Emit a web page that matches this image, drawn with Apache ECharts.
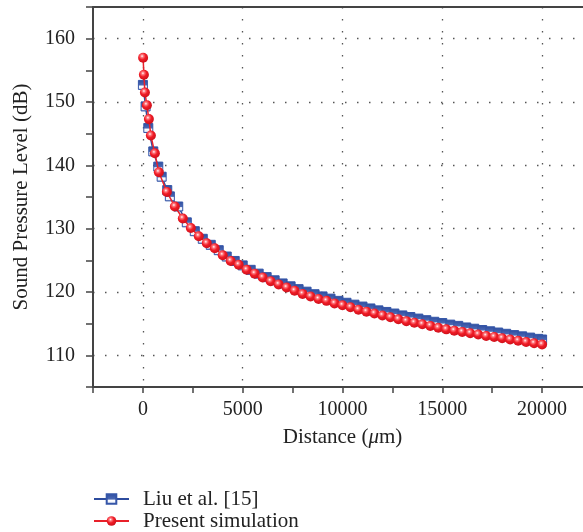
<!DOCTYPE html>
<html lang="en">
<head>
    <meta charset="UTF-8">
    <title>Sound pressure level vs distance</title>
    <script src="https://cdn.jsdelivr.net/npm/echarts@6/dist/echarts.min.js"></script>
    <style type="text/css">
        *{
            padding: 0px;
            margin: 0px;
            border: 0px;
        }
        #chart{
            width: 583px;
            height: 532px;
            background: #fff;
        }
    </style>
</head>
<body>
<div id="chart"></div>
<script>
    // Liu et al. [15] (blue squares)
    var liuX = [0, 135, 270, 520, 770, 940, 1220, 1350, 1770,
        2200, 2600, 3000, 3400, 3800, 4200, 4600, 5000, 5400, 5800,
        6200, 6600, 7000, 7400, 7800, 8200, 8600, 9000, 9400, 9800,
        10200, 10600, 11000, 11400, 11800, 12200, 12600, 13000, 13400, 13800,
        14200, 14600, 15000, 15400, 15800, 16200, 16600, 17000, 17400, 17800,
        18200, 18600, 19000, 19400, 19800, 20000];
    var liuY = [152.7, 149.3, 145.9, 142.2, 139.8, 138.2, 136.1, 135.1, 133.5,
        131.0, 129.6, 128.4, 127.45, 126.6, 125.6, 124.9, 124.2, 123.5, 122.9,
        122.35, 121.85, 121.35, 120.9, 120.45, 120.05, 119.65, 119.3, 118.95, 118.6,
        118.3, 118.0, 117.7, 117.4, 117.1, 116.85, 116.6, 116.3, 116.05, 115.8,
        115.55, 115.3, 115.1, 114.85, 114.65, 114.4, 114.2, 114.0, 113.8, 113.6,
        113.4, 113.2, 113.0, 112.8, 112.6, 112.5];

    // Present simulation (red balls)
    var simX = [10, 50, 100, 200, 300, 400, 600, 800, 1200, 1600,
        2000, 2400, 2800, 3200, 3600, 4000, 4400, 4800, 5200, 5600,
        6000, 6400, 6800, 7200, 7600, 8000, 8400, 8800, 9200, 9600,
        10000, 10400, 10800, 11200, 11600, 12000, 12400, 12800, 13200, 13600,
        14000, 14400, 14800, 15200, 15600, 16000, 16400, 16800, 17200, 17600,
        18000, 18400, 18800, 19200, 19600, 20000];
    var simY = [157.0, 154.3, 151.5, 149.5, 147.3, 144.7, 141.9, 138.9, 135.8, 133.5,
        131.6, 130.1, 128.8, 127.7, 126.9, 125.8, 124.9, 124.3, 123.5, 122.9,
        122.3, 121.7, 121.2, 120.7, 120.2, 119.7, 119.3, 118.9, 118.6, 118.2,
        117.9, 117.6, 117.2, 116.9, 116.6, 116.3, 116.0, 115.7, 115.4, 115.15,
        114.9, 114.65, 114.35, 114.1, 113.9, 113.7, 113.5, 113.3, 113.05, 112.9,
        112.7, 112.5, 112.3, 112.1, 111.9, 111.7];

    var seriesNames = ['Liu et al. [15]', 'Present simulation'];

    function pairs(xs, ys) {
        var out = [];
        for (var i = 0; i < xs.length; i++) out.push([xs[i], ys[i]]);
        return out;
    }

    var serif = 'Liberation Serif';
    // every other split line is transparent, so the dotted grid sits on the labelled ticks only
    var dotGrid = {show: true, lineStyle: {color: ['rgba(0,0,0,0)', '#555'], width: 1.3, type: [1.5, 10.5]}};

    var option = {
        animation: false,
        backgroundColor: '#fff',
        grid: {left: 93, top: 7, width: 499, height: 380, containLabel: false, outerBoundsMode: 'none'},
        legend: {
            orient: 'vertical',
            left: 93,
            top: 488,
            padding: 0,
            itemWidth: 35,
            itemHeight: 12,
            itemGap: 0,
            textStyle: {fontFamily: serif, fontSize: 21, color: '#222', lineHeight: 22, padding: [0, 0, 0, 9]},
            data: seriesNames
        },
        xAxis: [{
            type: 'value',
            min: -2500,
            max: 22500,
            interval: 2500,
            name: 'Distance ({it|μ}m)',
            nameLocation: 'middle',
            nameGap: 40,
            nameTextStyle: {fontFamily: serif, fontSize: 21, color: '#222',
                rich: {it: {fontFamily: serif, fontSize: 21, fontStyle: 'italic', color: '#222'}}},
            axisLine: {onZero: false, lineStyle: {color: '#444', width: 2}},
            axisTick: {inside: false, length: 6, lineStyle: {color: '#444', width: 1.5}},
            axisLabel: {
                fontFamily: serif, fontSize: 20, color: '#222', margin: 13,
                showMinLabel: true, showMaxLabel: true,
                formatter: function (v) {
                    return (v >= 0 && v <= 20000 && v % 5000 === 0) ? String(v) : '';
                }
            },
            splitLine: dotGrid
        }, {
            type: 'value',
            position: 'top',
            min: -2500,
            max: 22500,
            interval: 2500,
            axisLine: {show: true, onZero: false, lineStyle: {color: '#444', width: 2}},
            axisTick: {show: false},
            axisLabel: {show: false},
            splitLine: {show: false}
        }],
        yAxis: {
            type: 'value',
            min: 105,
            max: 165,
            interval: 5,
            name: 'Sound Pressure Level (dB)',
            nameLocation: 'middle',
            nameGap: 61,
            nameTextStyle: {fontFamily: serif, fontSize: 21, color: '#222'},
            axisLine: {show: true, onZero: false, lineStyle: {color: '#444', width: 2}},
            axisTick: {show: true, inside: false, length: 7, lineStyle: {color: '#444', width: 1.5}},
            axisLabel: {
                fontFamily: serif, fontSize: 20, color: '#222', margin: 18,
                formatter: function (v) {
                    return (v >= 110 && v <= 160 && v % 10 === 0) ? String(v) : '';
                }
            },
            splitLine: dotGrid
        },
        series: [{
            name: seriesNames[0],
            type: 'line',
            data: pairs(liuX, liuY),
            symbol: 'rect',
            symbolSize: 9,
            lineStyle: {color: '#2d4c9e', width: 1.5},
            itemStyle: {
                color: {
                    type: 'linear', x: 0, y: 0, x2: 0, y2: 1,
                    colorStops: [
                        {offset: 0, color: '#2d4c9e'},
                        {offset: 0.5, color: '#4a68b4'},
                        {offset: 0.62, color: '#ffffff'},
                        {offset: 0.85, color: '#e8eefa'},
                        {offset: 1, color: '#2d4c9e'}
                    ]
                },
                borderColor: '#3556a8',
                borderWidth: 1
            },
            z: 2
        }, {
            name: seriesNames[1],
            type: 'line',
            data: pairs(simX, simY),
            symbol: 'circle',
            symbolSize: 10,
            lineStyle: {color: '#e8202a', width: 1.5},
            itemStyle: {
                color: {
                    type: 'radial', x: 0.4, y: 0.35, r: 0.7,
                    colorStops: [
                        {offset: 0, color: '#ffffff'},
                        {offset: 0.2, color: '#ff7a80'},
                        {offset: 0.5, color: '#f01c26'},
                        {offset: 1, color: '#c80f1a'}
                    ]
                },
                borderWidth: 0
            },
            z: 3
        }]
    };

    var chart = echarts.init(document.getElementById('chart'));
    chart.setOption(option);
</script>
</body>
</html>
